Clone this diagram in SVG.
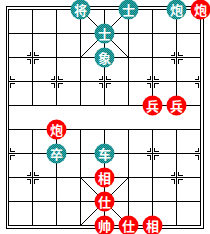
<svg xmlns="http://www.w3.org/2000/svg" width="210" height="234" viewBox="0 0 210 234">
<defs>
<pattern id="dither" width="2" height="2" patternUnits="userSpaceOnUse">
<rect width="2" height="2" fill="#008080"/>
<rect width="1" height="1" fill="#3aa6a6"/>
<rect x="1" y="1" width="1" height="1" fill="#3aa6a6"/>
</pattern>
<g id="mk">
<path d="M-2,-6V-2H-6M2,-6V-2H6M-2,6V2H-6M2,6V2H6"/>
</g>
<g id="mkR"><path d="M2,-6V-2H6M2,6V2H6"/></g>
<g id="mkL"><path d="M-2,-6V-2H-6M-2,6V2H-6"/></g>
</defs>
<style>
.ln{stroke:#000;stroke-width:1;fill:none;shape-rendering:crispEdges}
.dg{stroke:#000;stroke-width:1;fill:none;shape-rendering:crispEdges}
.mk{stroke:#000;stroke-width:1;fill:none;shape-rendering:crispEdges}
.b circle{fill:url(#dither)}
.r circle{fill:#ff0000}
.p text{fill:#fff;font-family:"Noto Sans CJK SC","Noto Sans CJK TC",sans-serif;font-size:13px;font-weight:bold;text-anchor:middle;dominant-baseline:central}
</style>
<rect width="210" height="234" fill="#fff"/>
<g id="board">
<rect class="ln" x="6.5" y="6.5" width="197" height="222"/>
<rect class="ln" x="8.5" y="9.5" width="192" height="216"/>
<path class="ln" d="M8.5,33.5H200.5M8.5,57.5H200.5M8.5,81.5H200.5M8.5,105.5H200.5M8.5,129.5H200.5M8.5,153.5H200.5M8.5,177.5H200.5M8.5,201.5H200.5"/>
<path class="ln" d="M32.5,9.5V105.5M56.5,9.5V105.5M80.5,9.5V105.5M104.5,9.5V105.5M128.5,9.5V105.5M152.5,9.5V105.5M176.5,9.5V105.5"/>
<path class="ln" d="M32.5,129.5V225.5M56.5,129.5V225.5M80.5,129.5V225.5M104.5,129.5V225.5M128.5,129.5V225.5M152.5,129.5V225.5M176.5,129.5V225.5"/>
<path class="dg" d="M80.5,9.5L128.5,57.5M128.5,9.5L80.5,57.5M80.5,177.5L128.5,225.5M128.5,177.5L80.5,225.5"/>
</g>
<g id="markers" class="mk">
<use href="#mk" x="32.5" y="57.5"/>
<use href="#mk" x="176.5" y="57.5"/>
<use href="#mkR" x="8.5" y="81.5"/>
<use href="#mk" x="56.5" y="81.5"/>
<use href="#mk" x="104.5" y="81.5"/>
<use href="#mk" x="152.5" y="81.5"/>
<use href="#mkL" x="200.5" y="81.5"/>
<use href="#mkR" x="8.5" y="153.5"/>
<use href="#mk" x="56.5" y="153.5"/>
<use href="#mk" x="104.5" y="153.5"/>
<use href="#mk" x="152.5" y="153.5"/>
<use href="#mkL" x="200.5" y="153.5"/>
<use href="#mk" x="32.5" y="177.5"/>
<use href="#mk" x="176.5" y="177.5"/>
</g>
<g id="pieces">
<g id="b-jiang" class="p b"><circle cx="80.5" cy="9.5" r="10"/><text x="80.5" y="9.5">将</text></g>
<g id="b-shi1" class="p b"><circle cx="128.5" cy="9.5" r="10"/><text x="128.5" y="9.5">士</text></g>
<g id="b-pao" class="p b"><circle cx="176.5" cy="9.5" r="10"/><text x="176.5" y="9.5">炮</text></g>
<g id="r-pao1" class="p r"><circle cx="200.5" cy="9.5" r="10"/><text x="200.5" y="9.5">炮</text></g>
<g id="b-shi2" class="p b"><circle cx="104.5" cy="33.5" r="10"/><text x="104.5" y="33.5">士</text></g>
<g id="b-xiang" class="p b"><circle cx="104.5" cy="57.5" r="10"/><text x="104.5" y="57.5">象</text></g>
<g id="r-bing1" class="p r"><circle cx="152.5" cy="105.5" r="10"/><text x="152.5" y="105.5">兵</text></g>
<g id="r-bing2" class="p r"><circle cx="176.5" cy="105.5" r="10"/><text x="176.5" y="105.5">兵</text></g>
<g id="r-pao2" class="p r"><circle cx="56.5" cy="129.5" r="10"/><text x="56.5" y="129.5">炮</text></g>
<g id="b-zu" class="p b"><circle cx="56.5" cy="153.5" r="10"/><text x="56.5" y="153.5">卒</text></g>
<g id="b-che" class="p b"><circle cx="104.5" cy="153.5" r="10"/><text x="104.5" y="153.5">车</text></g>
<g id="r-xiang1" class="p r"><circle cx="104.5" cy="177.5" r="10"/><text x="104.5" y="177.5">相</text></g>
<g id="r-shi1" class="p r"><circle cx="104.5" cy="201.5" r="10"/><text x="104.5" y="201.5">仕</text></g>
<g id="r-shuai" class="p r"><circle cx="104.5" cy="225.5" r="10"/><text x="104.5" y="225.5">帅</text></g>
<g id="r-shi2" class="p r"><circle cx="128.5" cy="225.5" r="10"/><text x="128.5" y="225.5">仕</text></g>
<g id="r-xiang2" class="p r"><circle cx="152.5" cy="225.5" r="10"/><text x="152.5" y="225.5">相</text></g>
</g>
</svg>
